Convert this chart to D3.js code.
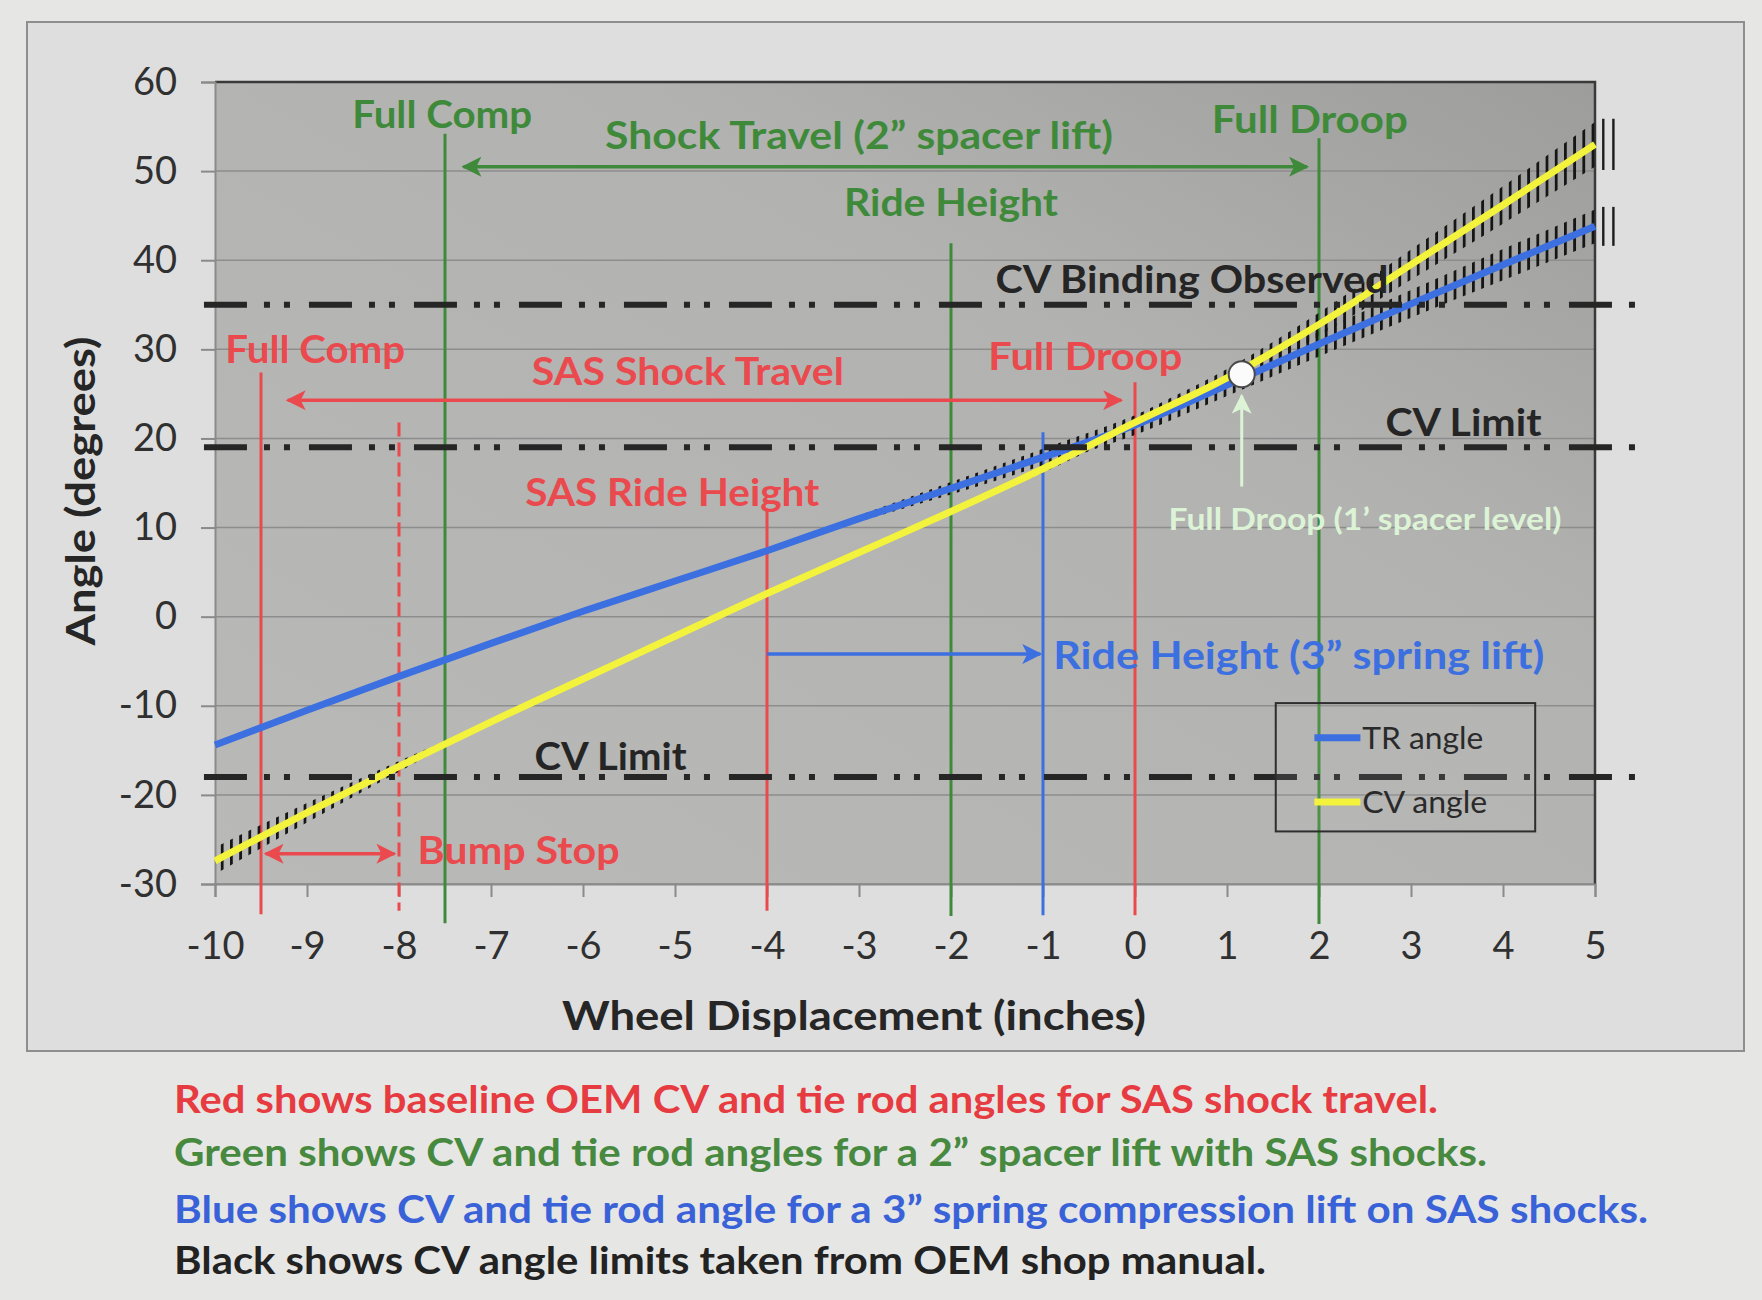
<!DOCTYPE html>
<html>
<head>
<meta charset="utf-8">
<title>angulos CV y barra de direccion</title>
<script src="https://cdn.jsdelivr.net/npm/d3@7"></script>
<style>
  html, body { margin: 0; padding: 0; background: #e6e6e4; }
  svg { display: block; font-family: Lato, "Open Sans", sans-serif; }
</style>
</head>
<body>
<svg id="grafico" width="1762" height="1300"></svg>
<script>
// valores leidos a ojo de la foto del grafico (excel), en pulgadas y grados
var desplazamiento = [-10, -9, -8, -7, -6, -5, -4, -3, -2, -1, 0, 1, 2, 3, 4, 5];
var anguloTR = [-14.4, -10.5, -6.7, -3.0, 0.6, 4.0, 7.4, 11.0, 14.4, 17.9, 21.5, 26.0, 30.6, 35.1, 39.5, 43.8];
var anguloCV = [-27.4, -22.0, -16.8, -11.8, -7.0, -2.2, 2.6, 7.2, 11.8, 16.6, 21.8, 26.8, 32.8, 39.5, 46.2, 53.0];
// rayado (barras de error) alrededor de cada curva, en grados
var rayadoTR = [0, 0, 0, 0, 0, 0, 0, 0.35, 0.7, 0.95, 1.1, 1.25, 1.4, 1.55, 1.75, 1.9];
var rayadoCV = [1.5, 1.1, 0.6, 0, 0, 0, 0, 0, 0, 0.45, 0.75, 1.0, 1.3, 1.7, 2.1, 2.5];
var barrasFinales = [5.09, 5.2];

var ticksX = [-10, -9, -8, -7, -6, -5, -4, -3, -2, -1, 0, 1, 2, 3, 4, 5];
var ticksY = [-30, -20, -10, 0, 10, 20, 30, 40, 50, 60];

// limites del cv segun el manual, y el tramo en x que cubren
var limitesCV = [35, 19, -18];
var tramoLimites = [-10.12, 5.57];

// lineas verticales: posicion, desde, hasta, tipo
var verticales = [
  { x: -9.5, y1: 27.4, y2: -33.4, tipo: "rojo" },
  { x: -8, y1: 21.8, y2: -33.0, tipo: "rojoGuion" },
  { x: -7.5, y1: 54.2, y2: -34.4, tipo: "verde" },
  { x: -4, y1: 11.9, y2: -33.0, tipo: "rojo" },
  { x: -2, y1: 41.9, y2: -33.6, tipo: "verde" },
  { x: -1, y1: 20.7, y2: -33.5, tipo: "azul" },
  { x: 0, y1: 26.3, y2: -33.5, tipo: "rojo" },
  { x: 2, y1: 53.7, y2: -34.5, tipo: "verde" }
];

// flechas horizontales: x inicial, x final, altura, puntas
var flechas = [
  { x1: -7.3, x2: 1.87, y: 50.5, tipo: "verde", puntas: "ambas" },
  { x1: -9.21, x2: -0.15, y: 24.3, tipo: "rojo", puntas: "ambas" },
  { x1: -4, x2: -1.03, y: -4.2, tipo: "azul", puntas: "fin" },
  { x1: -9.45, x2: -8.05, y: -26.6, tipo: "rojo", puntas: "ambas" }
];
var flechaDroop = { x: 1.16, y1: 14.6, y2: 24.8 };
var puntoBlanco = { x: 1.16, y: 27.2 };

var etiquetas = [
  { texto: "Full Comp", x: -7.53, y: 56.4, tipo: "verde" },
  { texto: "Shock Travel (2\u201d spacer lift)", x: -3.0, y: 54.0, tipo: "verde" },
  { texto: "Full Droop", x: 1.9, y: 55.8, tipo: "verde" },
  { texto: "Ride Height", x: -2.0, y: 46.5, tipo: "verde" },
  { texto: "CV Binding Observed", x: 0.62, y: 37.9, tipo: "negro" },
  { texto: "Full Comp", x: -8.91, y: 30.0, tipo: "rojo" },
  { texto: "SAS Shock Travel", x: -4.86, y: 27.5, tipo: "rojo" },
  { texto: "Full Droop", x: -0.54, y: 29.2, tipo: "rojo" },
  { texto: "CV Limit", x: 3.57, y: 21.8, tipo: "negro" },
  { texto: "SAS Ride Height", x: -5.03, y: 14.0, tipo: "rojo" },
  { texto: "Full Droop (1\u2019 spacer level)", x: 2.5, y: 11.0, tipo: "palido" },
  { texto: "Ride Height (3\u201d spring lift)", x: 1.78, y: -4.3, tipo: "azul" },
  { texto: "CV Limit", x: -5.7, y: -15.7, tipo: "negro" },
  { texto: "Bump Stop", x: -6.7, y: -26.2, tipo: "rojo" }
];

var series = ["TR angle", "CV angle"];

var notas = [
  { texto: "Red shows baseline OEM CV and tie rod angles for SAS shock travel.", tipo: "rojo" },
  { texto: "Green shows CV and tie rod angles for a 2\u201d spacer lift with SAS shocks.", tipo: "verde" },
  { texto: "Blue shows CV and tie rod angle for a 3\u201d spring compression lift on SAS shocks.", tipo: "azul" },
  { texto: "Black shows CV angle limits taken from OEM shop manual.", tipo: "negro" }
];

(function () {
  var svg = d3.select("#grafico");

  var COLORES = {
    rojo: "#ea4a4d", rojoGuion: "#ea4a4d", verde: "#3f8a3a", azul: "#3c6fe0",
    negro: "#252525", palido: "#dcf3d6", amarillo: "#f3f23c"
  };
  var TEXTO_NOTA = { rojo: "#e63b40", verde: "#47893e", azul: "#3a62d8", negro: "#222" };

  // el area de trazado en pixeles, medida sobre la foto
  var margen = { izq: 215, der: 1595, arriba: 82, abajo: 884 };

  var x = d3.scaleLinear().domain([-10, 5]).range([margen.izq, margen.der]);
  var y = d3.scaleLinear().domain([-30, 60]).range([margen.abajo, margen.arriba]);

  var defs = svg.append("defs");

  var grad = defs.append("linearGradient").attr("id", "fondoTrazado")
    .attr("x1", 0).attr("y1", 1).attr("x2", 1).attr("y2", 0);
  grad.append("stop").attr("offset", 0).attr("stop-color", "#b9b9b8");
  grad.append("stop").attr("offset", 0.65).attr("stop-color", "#b2b2b1");
  grad.append("stop").attr("offset", 1).attr("stop-color", "#9d9d9c");

  // rayas verticales para el rayado de las curvas
  var patron = defs.append("pattern").attr("id", "rayas")
    .attr("patternUnits", "userSpaceOnUse").attr("width", 9.2).attr("height", 10);
  patron.append("rect").attr("width", 2.8).attr("height", 10).attr("fill", "#161616");

  // puntas de flecha por color
  Object.keys(COLORES).forEach(function (k) {
    defs.append("marker").attr("id", "punta-" + k)
      .attr("viewBox", "0 0 10 10").attr("refX", 9).attr("refY", 5)
      .attr("markerUnits", "userSpaceOnUse")
      .attr("markerWidth", 22).attr("markerHeight", 20)
      .attr("orient", "auto-start-reverse")
      .append("path").attr("d", "M0,0 L10,5 L0,10 L2.5,5 Z").attr("fill", COLORES[k]);
  });

  // marco del grafico
  svg.append("rect").attr("x", 27).attr("y", 22).attr("width", 1717).attr("height", 1029)
    .attr("fill", "#dedede").attr("stroke", "#8e8e8e").attr("stroke-width", 2);

  svg.append("rect")
    .attr("x", margen.izq).attr("y", margen.arriba)
    .attr("width", margen.der - margen.izq).attr("height", margen.abajo - margen.arriba)
    .attr("fill", "url(#fondoTrazado)");

  // rejilla horizontal
  svg.append("g").selectAll("line").data(ticksY).enter().append("line")
    .attr("x1", margen.izq).attr("x2", margen.der)
    .attr("y1", function (d) { return y(d); }).attr("y2", function (d) { return y(d); })
    .attr("stroke", "#8d8d8d").attr("stroke-width", 1.5);

  // bordes arriba y derecha mas oscuros, como en la foto
  svg.append("path")
    .attr("d", "M" + margen.izq + "," + margen.arriba + "H" + margen.der + "V" + margen.abajo)
    .attr("fill", "none").attr("stroke", "#3a3a3a").attr("stroke-width", 2.5);

  // ejes con d3. el formato usa guion normal, no el signo menos tipografico
  var conGuion = function (d) { return String(d); };
  var ejeY = svg.append("g").attr("transform", "translate(" + margen.izq + ",0)")
    .call(d3.axisLeft(y).tickValues(ticksY).tickSize(14).tickPadding(24).tickFormat(conGuion));
  var ejeX = svg.append("g").attr("transform", "translate(0," + margen.abajo + ")")
    .call(d3.axisBottom(x).tickValues(ticksX).tickSize(13).tickPadding(35).tickFormat(conGuion));

  [ejeY, ejeX].forEach(function (eje) {
    eje.select(".domain").attr("stroke", "#8a8a8a").attr("stroke-width", 2);
    eje.selectAll(".tick line").attr("stroke", "#8a8a8a").attr("stroke-width", 2);
    eje.selectAll(".tick text").attr("fill", "#303030")
      .style("font-family", "Lato, sans-serif").style("font-size", "38px");
  });

  // lineas verticales de referencia
  svg.append("g").selectAll("line").data(verticales).enter().append("line")
    .attr("x1", function (d) { return x(d.x); }).attr("x2", function (d) { return x(d.x); })
    .attr("y1", function (d) { return y(d.y1); }).attr("y2", function (d) { return y(d.y2); })
    .attr("stroke", function (d) { return COLORES[d.tipo]; })
    .attr("stroke-width", 3)
    .attr("stroke-dasharray", function (d) { return d.tipo === "rojoGuion" ? "14 6" : null; });

  // armamos las filas de cada serie
  var filasTR = desplazamiento.map(function (d, i) { return { x: d, v: anguloTR[i], e: rayadoTR[i] }; });
  var filasCV = desplazamiento.map(function (d, i) { return { x: d, v: anguloCV[i], e: rayadoCV[i] }; });

  var banda = d3.area()
    .x(function (d) { return x(d.x); })
    .y0(function (d) { return y(d.v - d.e); })
    .y1(function (d) { return y(d.v + d.e); })
    .curve(d3.curveMonotoneX);

  var linea = d3.line()
    .x(function (d) { return x(d.x); })
    .y(function (d) { return y(d.v); })
    .curve(d3.curveMonotoneX);

  [filasTR, filasCV].forEach(function (filas) {
    svg.append("path").attr("d", banda(filas)).attr("fill", "url(#rayas)");
    // las dos rayas largas que quedan pasado el borde derecho
    var ultimo = filas[filas.length - 1];
    svg.append("g").selectAll("line").data(barrasFinales).enter().append("line")
      .attr("x1", function (d) { return x(d); }).attr("x2", function (d) { return x(d); })
      .attr("y1", y(ultimo.v + ultimo.e * 1.15)).attr("y2", y(ultimo.v - ultimo.e * 1.15))
      .attr("stroke", "#1c1c1c").attr("stroke-width", 2.4);
  });

  svg.append("path").attr("d", linea(filasTR))
    .attr("fill", "none").attr("stroke", COLORES.azul).attr("stroke-width", 7);
  svg.append("path").attr("d", linea(filasCV))
    .attr("fill", "none").attr("stroke", COLORES.amarillo).attr("stroke-width", 7);

  // limites del cv: raya larga, punto, punto
  svg.append("g").selectAll("line").data(limitesCV).enter().append("line")
    .attr("x1", x(tramoLimites[0])).attr("x2", x(tramoLimites[1]))
    .attr("y1", function (d) { return y(d); }).attr("y2", function (d) { return y(d); })
    .attr("stroke", "#262626").attr("stroke-width", 6)
    .attr("stroke-dasharray", "43 17 6 14 6 19");

  // flechas
  svg.append("g").selectAll("line").data(flechas).enter().append("line")
    .attr("x1", function (d) { return x(d.x1); }).attr("x2", function (d) { return x(d.x2); })
    .attr("y1", function (d) { return y(d.y); }).attr("y2", function (d) { return y(d.y); })
    .attr("stroke", function (d) { return COLORES[d.tipo]; })
    .attr("stroke-width", 3.5)
    .attr("marker-end", function (d) { return "url(#punta-" + d.tipo + ")"; })
    .attr("marker-start", function (d) { return d.puntas === "ambas" ? "url(#punta-" + d.tipo + ")" : null; });

  svg.append("line")
    .attr("x1", x(flechaDroop.x)).attr("x2", x(flechaDroop.x))
    .attr("y1", y(flechaDroop.y1)).attr("y2", y(flechaDroop.y2))
    .attr("stroke", COLORES.palido).attr("stroke-width", 3)
    .attr("marker-end", "url(#punta-palido)");

  svg.append("circle")
    .attr("cx", x(puntoBlanco.x)).attr("cy", y(puntoBlanco.y)).attr("r", 13)
    .attr("fill", "#fbfbfb").attr("stroke", "#4a4a4a").attr("stroke-width", 2);

  // anchos medidos en la foto, asi el texto ocupa lo mismo que alla
  var anchos = [180, 508, 196, 214, 393, 180, 312, 194, 156, 294, 393, 491, 152, 202];

  svg.append("g").selectAll("text").data(etiquetas).enter().append("text")
    .attr("x", function (d) { return x(d.x); })
    .attr("y", function (d) { return y(d.y); })
    .attr("dy", "0.36em")
    .attr("text-anchor", "middle")
    .attr("font-weight", 700)
    .attr("font-size", function (d) { return d.tipo === "palido" ? 31 : 38; })
    .attr("fill", function (d) { return COLORES[d.tipo]; })
    .attr("textLength", function (d, i) { return anchos[i]; })
    .attr("lengthAdjust", "spacingAndGlyphs")
    .text(function (d) { return d.texto; });

  // leyenda
  var caja = { x1: 1.53, x2: 4.35, y1: -9.7, y2: -24.1 };
  svg.append("rect")
    .attr("x", x(caja.x1)).attr("y", y(caja.y1))
    .attr("width", x(caja.x2) - x(caja.x1)).attr("height", y(caja.y2) - y(caja.y1))
    .attr("fill", "rgba(200,200,200,0.12)").attr("stroke", "#2e2e2e").attr("stroke-width", 2);

  var filasLeyenda = [-13.6, -20.8];
  var coloresLeyenda = [COLORES.azul, COLORES.amarillo];
  var itemLeyenda = svg.append("g").selectAll("g").data(series).enter().append("g");
  itemLeyenda.append("line")
    .attr("x1", x(1.95)).attr("x2", x(2.45))
    .attr("y1", function (d, i) { return y(filasLeyenda[i]); })
    .attr("y2", function (d, i) { return y(filasLeyenda[i]); })
    .attr("stroke", function (d, i) { return coloresLeyenda[i]; })
    .attr("stroke-width", 7);
  itemLeyenda.append("text")
    .attr("x", x(2.47)).attr("y", function (d, i) { return y(filasLeyenda[i]); })
    .attr("dy", "0.36em").attr("font-size", 31).attr("fill", "#2a2a2a")
    .attr("textLength", function (d, i) { return i ? 125 : 121; })
    .attr("lengthAdjust", "spacingAndGlyphs")
    .text(function (d) { return d; });

  // titulos de los ejes
  svg.append("text")
    .attr("transform", "translate(81,491) rotate(-90)")
    .attr("text-anchor", "middle").attr("dy", "0.36em")
    .attr("font-weight", 700).attr("font-size", 40).attr("fill", "#262626")
    .attr("textLength", 309).attr("lengthAdjust", "spacingAndGlyphs")
    .text("Angle (degrees)");

  svg.append("text")
    .attr("x", 854).attr("y", 1015).attr("dy", "0.36em")
    .attr("text-anchor", "middle")
    .attr("font-weight", 700).attr("font-size", 41).attr("fill", "#262626")
    .attr("textLength", 584).attr("lengthAdjust", "spacingAndGlyphs")
    .text("Wheel Displacement (inches)");

  // notas de abajo, fuera del marco
  var baseNotas = [1113, 1166, 1223, 1274];
  var anchoNotas = [1264, 1313, 1474, 1092];
  svg.append("g").selectAll("text").data(notas).enter().append("text")
    .attr("x", 174)
    .attr("y", function (d, i) { return baseNotas[i]; })
    .attr("font-weight", 700).attr("font-size", 38)
    .attr("fill", function (d) { return TEXTO_NOTA[d.tipo]; })
    .attr("textLength", function (d, i) { return anchoNotas[i]; })
    .attr("lengthAdjust", "spacingAndGlyphs")
    .text(function (d) { return d.texto; });
})();
</script>
</body>
</html>
